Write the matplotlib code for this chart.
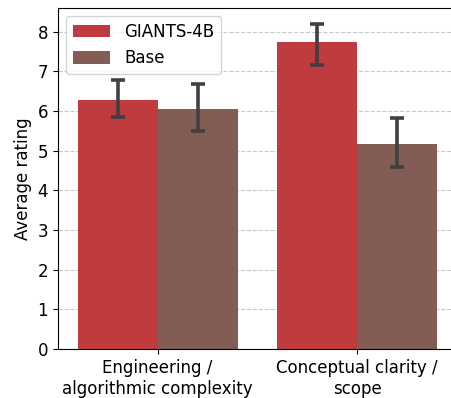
import matplotlib
matplotlib.use("Agg")
import matplotlib.pyplot as plt
import numpy as np

categories = ["Engineering /\nalgorithmic complexity", "Conceptual clarity /\nscope"]
series = ["GIANTS-4B", "Base"]
means = {
    "GIANTS-4B": [6.28, 7.73],
    "Base": [6.06, 5.18],
}
err_low = {
    "GIANTS-4B": [5.84, 7.17],
    "Base": [5.51, 4.59],
}
err_high = {
    "GIANTS-4B": [6.79, 8.20],
    "Base": [6.68, 5.83],
}
colors = {"GIANTS-4B": "#c03b3e", "Base": "#825c55"}

plt.rcParams["font.size"] = 12
fig = plt.figure(figsize=(4.52, 3.98), dpi=100)
ax = fig.add_axes([0.128, 0.123, 0.87, 0.857])

x = np.arange(len(categories))
width = 0.4
for i, s in enumerate(series):
    pos = x + (i - 0.5) * width
    m = np.array(means[s])
    yerr = np.vstack([m - np.array(err_low[s]), np.array(err_high[s]) - m])
    ax.bar(pos, m, width=width, color=colors[s], label=s, zorder=2)
    ax.errorbar(pos, m, yerr=yerr, fmt="none", ecolor="#404040",
                elinewidth=2.6, capsize=5, capthick=2.6, zorder=3)

ax.set_xlim(-0.5, 1.47)
ax.set_ylim(0, 8.6)
ax.set_xticks(x)
ax.set_xticklabels(categories)
ax.set_ylabel("Average rating")
ax.yaxis.grid(True, linestyle="--", color="#c8c8c8", linewidth=0.8, zorder=0)
ax.set_axisbelow(True)
ax.spines["right"].set_visible(False)
ax.legend(loc="upper left", fontsize=12, handlelength=2.2, handleheight=0.75,
          handletextpad=0.9)

fig.savefig("out.png", dpi=100)
